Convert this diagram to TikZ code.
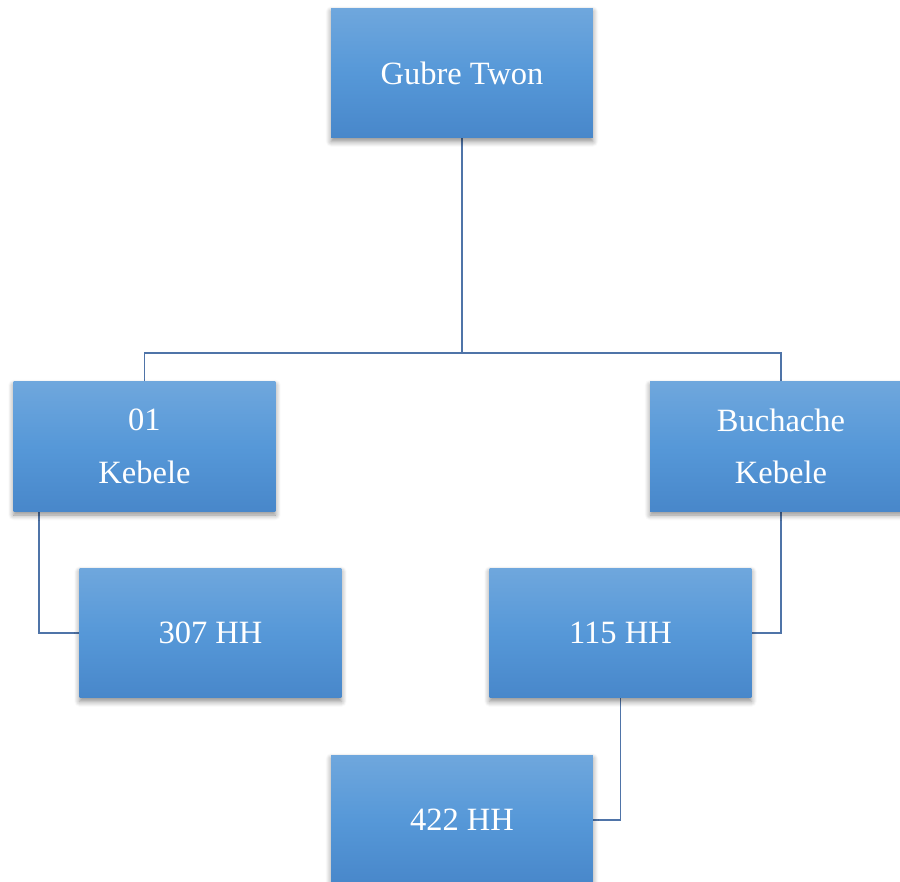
\documentclass[tikz,border=0pt]{standalone}
\usepackage{fontspec}
\setmainfont{Liberation Serif}
\usetikzlibrary{shadows.blur, backgrounds}

\definecolor{boxtop}{HTML}{6FA7DD}
\definecolor{boxmid}{HTML}{5698D8}
\definecolor{boxbot}{HTML}{4887CA}
\definecolor{linkblue}{HTML}{4F74A8}

\begin{document}
\begin{tikzpicture}[x=0.02cm, y=-0.02cm,
  unit/.style={rectangle, minimum width=5.24cm, minimum height=2.6cm, inner sep=0pt,
    top color=boxtop, bottom color=boxbot, middle color=boxmid, text=white, align=center,
    font=\fontsize{18.5}{30}\selectfont,
    blur shadow={shadow xshift=0pt, shadow yshift=-2pt, shadow blur radius=3pt,
      shadow blur steps=6, shadow opacity=45}},
  link/.style={linkblue, line width=1.1pt}]

\useasboundingbox (0,0) rectangle (900,882);
\clip (0,0) rectangle (900,882);

\node[unit] (gubre) at (462, 73) {Gubre Twon};

\node[unit] (kebele01) at (144.5, 446.5) {01\\Kebele};
\node[unit] (buchache) at (781, 446.5) {Buchache\\Kebele};

\node[unit] (hh307) at (210.5, 633) {307 HH};
\node[unit] (hh115) at (620.5, 633) {115 HH};
\node[unit] (hh422) at (462, 820) {422 HH};

\coordinate (bus) at (462, 353);

\begin{scope}[on background layer]
\draw[link] (gubre.south) -- (bus);
\draw[link] (kebele01.north) |- (bus) -| (buchache.north);
\draw[link] ([xshift=0.52cm]kebele01.south west) |- (hh307.west);
\draw[link] (buchache.south) |- (hh115.east);
\draw[link] (hh115.south) |- (hh422.east);
\end{scope}

\end{tikzpicture}
\end{document}
